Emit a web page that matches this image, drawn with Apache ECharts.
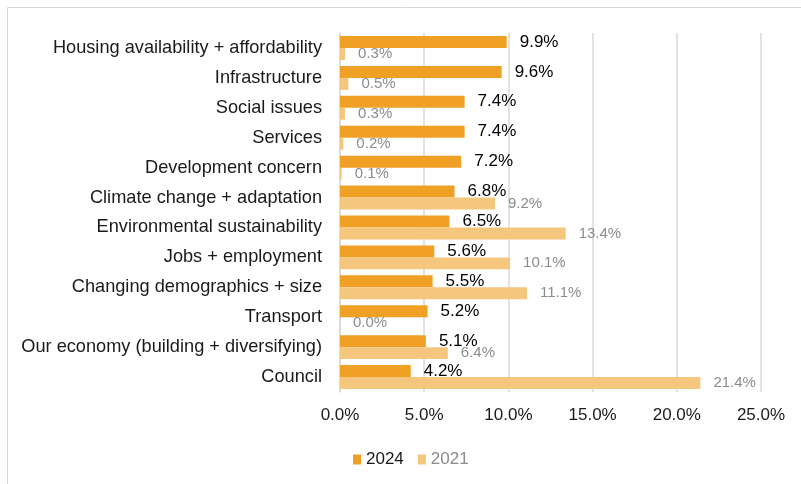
<!DOCTYPE html>
<html>
<head>
<meta charset="utf-8">
<script src="https://cdn.jsdelivr.net/npm/echarts@6/dist/echarts.min.js"></script>
<style>
  html, body { margin: 0; padding: 0; background: #fff; }
  #chart { width: 801px; height: 484px; }
</style>
</head>
<body>
<div id="chart"></div>
<script>
// Issue categories, listed top to bottom
const categories = [
  'Housing availability + affordability',
  'Infrastructure',
  'Social issues',
  'Services',
  'Development concern',
  'Climate change + adaptation',
  'Environmental sustainability',
  'Jobs + employment',
  'Changing demographics + size',
  'Transport',
  'Our economy (building + diversifying)',
  'Council'
];
// Share of mentions (%)
const values2024 = [9.9, 9.6, 7.4, 7.4, 7.2, 6.8, 6.5, 5.6, 5.5, 5.2, 5.1, 4.2];
const values2021 = [0.3, 0.5, 0.3, 0.2, 0.1, 9.2, 13.4, 10.1, 11.1, 0.0, 6.4, 21.4];
const xTicks = [0, 5, 10, 15, 20, 25];

const FONT = 'Liberation Sans, Arial, sans-serif';
const chart = echarts.init(document.getElementById('chart'), null, { renderer: 'canvas' });

chart.setOption({
  animation: false,
  backgroundColor: '#fff',
  textStyle: { fontFamily: FONT },
  // outer frame, running off the right and bottom edges
  graphic: [{
    type: 'rect',
    shape: { x: 7.5, y: 7.5, width: 900, height: 600 },
    style: { fill: 'none', stroke: '#d9d9d9', lineWidth: 1 },
    silent: true,
    z: -1
  }],
  grid: { left: 340, right: 40, top: 33, bottom: 92, containLabel: false },
  xAxis: {
    type: 'value',
    min: xTicks[0],
    max: xTicks[xTicks.length - 1],
    interval: xTicks[1] - xTicks[0],
    axisLine: { show: false },
    axisTick: { show: false },
    splitLine: { lineStyle: { color: '#d9d9d9', width: 1.5 } },
    axisLabel: {
      margin: 15,
      color: '#1a1a1a',
      fontSize: 17,
      fontFamily: FONT,
      formatter: v => v.toFixed(1) + '%'
    }
  },
  yAxis: {
    type: 'category',
    data: categories,
    inverse: true,
    axisLine: { show: true, lineStyle: { color: '#d9d9d9', width: 1.5 } },
    axisTick: { show: false },
    axisLabel: { margin: 18, color: '#1a1a1a', fontSize: 18.2, fontFamily: FONT }
  },
  legend: {
    bottom: 11,
    left: 348,
    itemWidth: 8,
    itemHeight: 10,
    itemGap: 14,
    icon: 'rect',
    textStyle: { fontSize: 17, fontFamily: FONT, padding: [0, 0, 0, 0] },
    data: [
      { name: '2024', textStyle: { color: '#1a1a1a' } },
      { name: '2021', textStyle: { color: '#8c8c8c' } }
    ]
  },
  series: [
    {
      name: '2024',
      type: 'bar',
      data: values2024,
      barGap: '0%',
      barCategoryGap: '20%',
      itemStyle: { color: '#F0A024' },
      label: {
        show: true,
        position: 'right',
        distance: 13,
        color: '#000',
        fontSize: 17,
        fontFamily: FONT,
        formatter: p => p.value.toFixed(1) + '%'
      }
    },
    {
      name: '2021',
      type: 'bar',
      data: values2021,
      barGap: '0%',
      barCategoryGap: '20%',
      itemStyle: { color: '#F5C67E' },
      label: {
        show: true,
        position: 'right',
        distance: 13,
        color: '#8c8c8c',
        fontSize: 15,
        fontFamily: FONT,
        formatter: p => p.value.toFixed(1) + '%'
      }
    }
  ]
});
</script>
</body>
</html>
